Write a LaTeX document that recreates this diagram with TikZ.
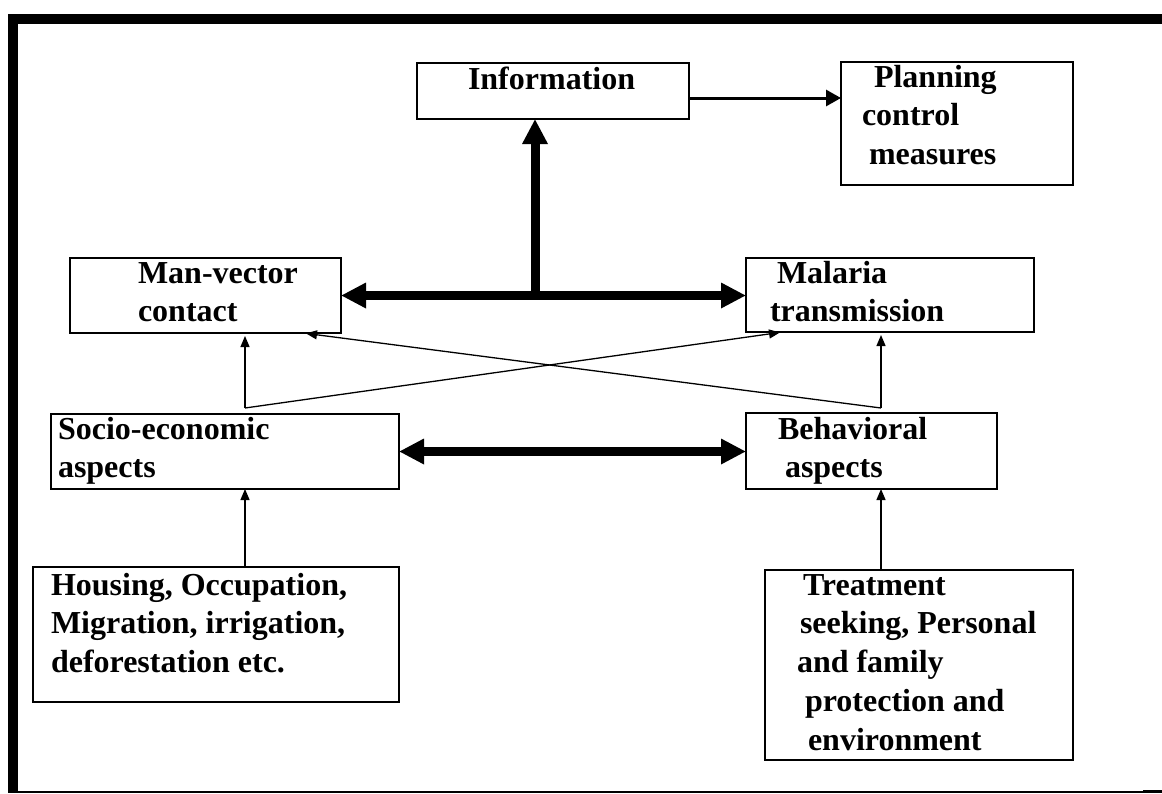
\documentclass[tikz,border=0pt]{standalone}
\usepackage{fontspec}
\setmainfont{Liberation Serif}
\usetikzlibrary{arrows.meta}
\newcommand{\lines}[1]{\begin{tabular}[t]{@{}l@{}}#1\end{tabular}}
\begin{document}
\begin{tikzpicture}[x=1pt,y=-1pt,
  box/.style={draw, line width=1.8pt, rectangle, inner sep=0pt, outer sep=0pt},
  lbl/.style={anchor=base west, inner sep=0pt, outer sep=0pt, font=\fontsize{32}{38.8}\selectfont\bfseries},
  bigarrow/.style={line width=9pt, {Triangle[length=25pt,width=24pt]}-{Triangle[length=25pt,width=24pt]}},
  bigup/.style={line width=9pt, -{Triangle[length=25pt,width=24pt]}},
  midarrow/.style={line width=3pt, -{Triangle[length=15pt,width=16pt]}},
  thinarrow/.style={line width=1.3pt, -{Triangle[length=11pt,width=9pt]}},
  frame/.style={line width=10pt}]
\useasboundingbox (0,0) rectangle (1162,793);
% frame
\draw[frame] (8,19) -- (1162,19);
\draw[frame] (13,14) -- (13,793);
\draw[line width=2pt] (18,791.5) -- (1162,791.5);
\fill (1143,789.5) rectangle (1162,793);
% boxes
\node[box, minimum width=272pt, minimum height=56pt] (info) at (553,91) {};
\node[box, minimum width=232pt, minimum height=123pt] (plan) at (957,123.5) {};
\node[box, minimum width=271pt, minimum height=75pt] (man) at (205.5,295.5) {};
\node[box, minimum width=288pt, minimum height=74pt] (mal) at (890,295) {};
\node[box, minimum width=348pt, minimum height=75pt] (socio) at (225,451.5) {};
\node[box, minimum width=251pt, minimum height=76pt] (behav) at (871.5,451) {};
\node[box, minimum width=366pt, minimum height=135pt] (housing) at (216,634.5) {};
\node[box, minimum width=308pt, minimum height=190pt] (treat) at (919,665) {};
% texts
\node[lbl] (info-t) at (468,89) {Information};
\node[lbl] (plan-t) at (862,87) {\lines{\hspace{12pt}Planning\\control\\\hspace{7pt}measures}};
\node[lbl] (man-t) at (138,283) {\lines{Man-vector\\contact}};
\node[lbl] (mal-t) at (770,283) {\lines{\hspace{7pt}Malaria\\transmission}};
\node[lbl] (socio-t) at (58,439) {\lines{Socio-economic\\aspects}};
\node[lbl] (behav-t) at (778,439) {\lines{Behavioral\\\hspace{7pt}aspects}};
\node[lbl] (housing-t) at (51,595) {\lines{Housing, Occupation,\\Migration, irrigation,\\deforestation etc.}};
\node[lbl] (treat-t) at (797,595) {\lines{\hspace{6pt}Treatment\\\hspace{3pt}seeking, Personal\\and family\\\hspace{8pt}protection and\\\hspace{11pt}environment}};
% helper coordinates
\coordinate (xa) at (245,0);
\coordinate (xb) at (881,0);
\coordinate (xc) at (303,0);
\coordinate (xd) at (783,0);
\coordinate (sj) at (245,408);
\coordinate (bj) at (881,408);
\coordinate (j) at (535,296);
% connectors
\draw[midarrow] ([yshift=-7pt]info.east) -- ([yshift=-7pt]info.east -| plan.west);
\draw[bigarrow] (man.east) -- (man.east -| mal.west);
\draw[bigup] (j) -- (j |- info.south);
\draw[bigarrow] (socio.east) -- (socio.east -| behav.west);
\draw[thinarrow] (housing.north -| xa) -- (socio.south -| xa);
\draw[thinarrow] (treat.north -| xb) -- (behav.south -| xb);
\draw[thinarrow, shorten >=3pt] (sj) -- (man.south -| xa);
\draw[thinarrow, shorten >=3pt] (sj) -- (mal.south -| xd);
\draw[thinarrow, shorten >=3pt] (bj) -- (mal.south -| xb);
\draw[thinarrow, shorten >=3pt] (bj) -- (man.south -| xc);
\end{tikzpicture}
\end{document}
